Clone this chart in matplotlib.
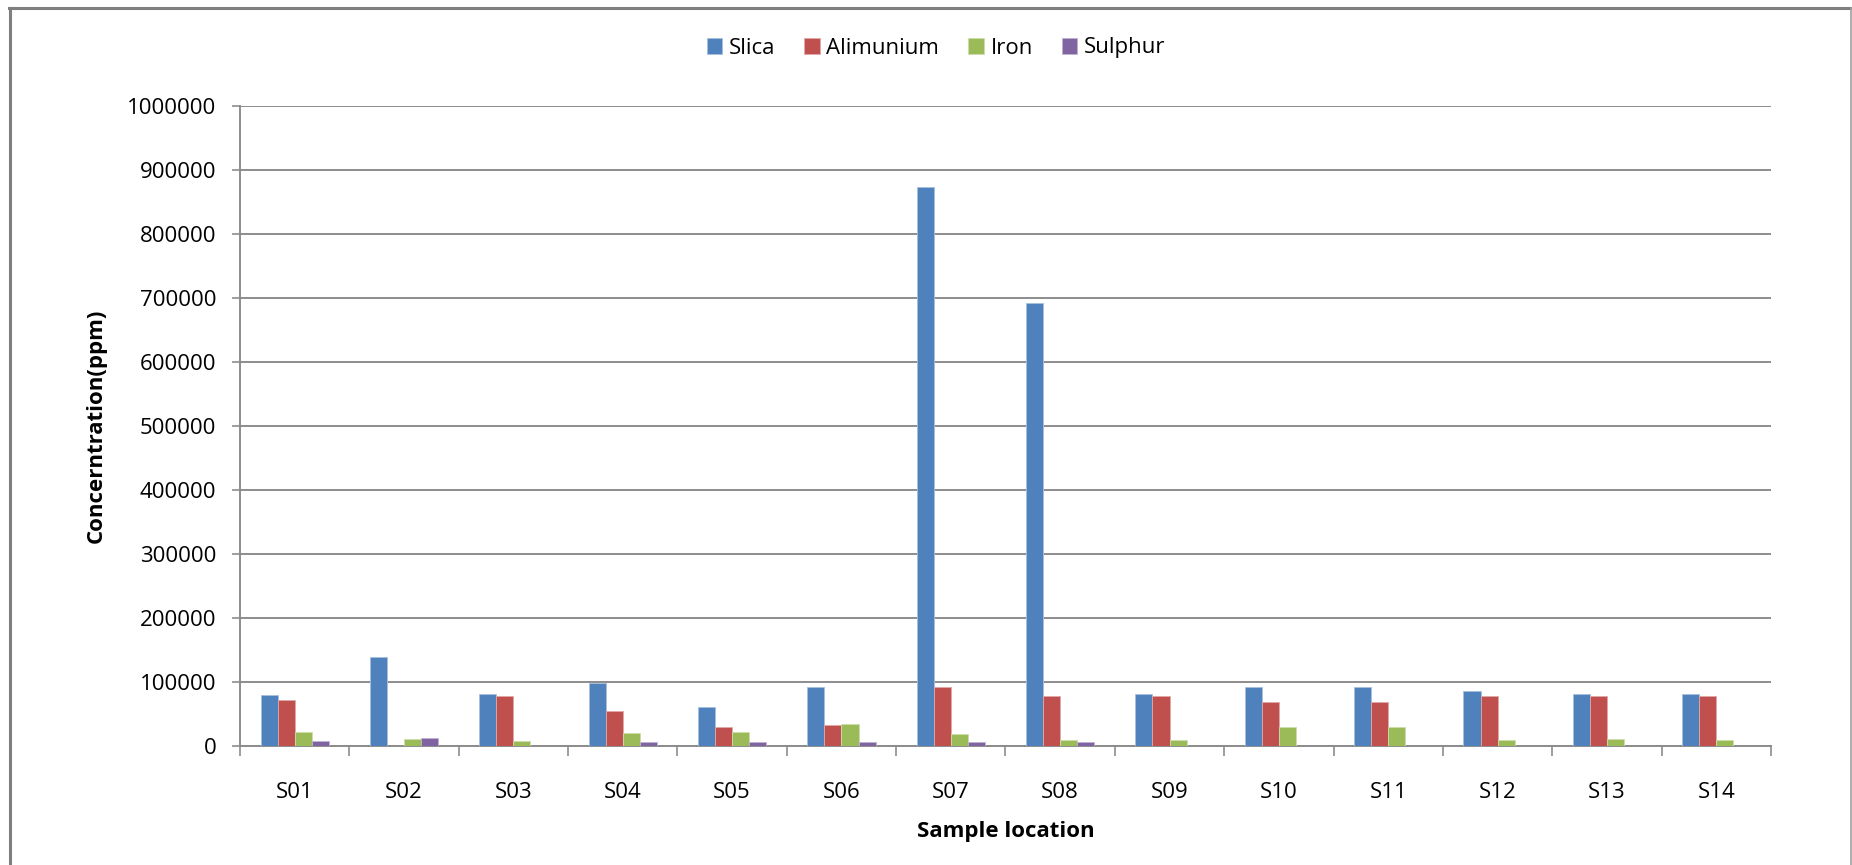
import matplotlib
matplotlib.use("Agg")
import matplotlib.pyplot as plt
import numpy as np
from matplotlib.lines import Line2D

plt.rcParams['font.family'] = ['Open Sans', 'DejaVu Sans']

# Sample sites and element concentrations (ppm)
locations = ["S01", "S02", "S03", "S04", "S05", "S06", "S07",
             "S08", "S09", "S10", "S11", "S12", "S13", "S14"]
slica = [79000, 139000, 81000, 98000, 61000, 91000, 873000,
         692000, 81000, 91000, 91000, 85000, 81000, 81000]
alimunium = [71000, 0, 78000, 55000, 29000, 33000, 91000,
             78000, 78000, 69000, 69000, 78000, 78000, 78000]
iron = [22000, 10000, 8000, 20000, 22000, 34000, 18000,
        8500, 8500, 28500, 28500, 8500, 10000, 8500]
sulphur = [8000, 12000, 0, 6500, 6000, 6000, 6000,
           6000, 0, 0, 0, 0, 0, 0]

series_names = ["Slica", "Alimunium", "Iron", "Sulphur"]
series_values = [slica, alimunium, iron, sulphur]
colors = ["#4F81BD", "#C0504D", "#9BBB59", "#8064A2"]
edge_colors = ["#A7C0DE", "#E0A8A6", "#CDDDAC", "#BFB1D0"]
y_ticks = [0, 100000, 200000, 300000, 400000, 500000,
           600000, 700000, 800000, 900000, 1000000]

W, H = 1852, 865
fig = plt.figure(figsize=(W / 100, H / 100), dpi=100)
ax = fig.add_axes([240 / W, 1 - 745.7 / H, (1771 - 240) / W, (745.7 - 106) / H])

x = np.arange(len(locations))
group = 1 / 1.6
bw = group / 4
for i, (name, vals, c, ec) in enumerate(zip(series_names, series_values, colors, edge_colors)):
    ax.bar(x - group / 2 + bw * (i + 0.5), vals, width=bw, color=c,
           edgecolor=ec, linewidth=0.6, label=name, zorder=3)

ax.set_xlim(-0.5, len(locations) - 0.5)
ax.set_ylim(0, 1000000)
ax.set_yticks(y_ticks)
ax.set_yticklabels([str(v) for v in y_ticks])
ax.yaxis.grid(True, color="#8C8C8C", linewidth=1.4, zorder=0)
ax.set_axisbelow(True)

ax.set_xticks(x)
ax.set_xticklabels(locations)
ax.set_xticks(np.arange(-0.5, len(locations)), minor=True)
ax.tick_params(axis="x", which="major", length=0, pad=26, labelsize=16)
ax.tick_params(axis="x", which="minor", length=7, width=1.2, color="#8C8C8C", direction="out")
ax.tick_params(axis="y", length=6, width=1.2, color="#8C8C8C", pad=11, labelsize=16)

for s in ("top", "right"):
    ax.spines[s].set_visible(False)
for s in ("left", "bottom"):
    ax.spines[s].set_color("#8C8C8C")
    ax.spines[s].set_linewidth(1.4)

ax.set_xlabel("Sample location", fontsize=16, fontweight="bold", labelpad=13)
ax.set_ylabel("Concerntration(ppm)", fontsize=16, fontweight="bold", labelpad=15)

fig.legend(*ax.get_legend_handles_labels(), loc="center", ncol=4,
           bbox_to_anchor=(936 / W, 1 - 48 / H), frameon=False, fontsize=16,
           handlelength=0.7, handleheight=0.7, handletextpad=0.3, columnspacing=1.3)

# Outer chart frame
fig.add_artist(Line2D([9 / W, 1851 / W], [1 - 8 / H, 1 - 8 / H], transform=fig.transFigure,
                      color="#7F7F7F", linewidth=2.2))
fig.add_artist(Line2D([9.5 / W, 9.5 / W], [0, 1 - 8 / H], transform=fig.transFigure,
                      color="#7F7F7F", linewidth=2.2))
fig.add_artist(Line2D([1850.5 / W, 1850.5 / W], [0, 1 - 8 / H], transform=fig.transFigure,
                      color="#A0A0A0", linewidth=1.2))

fig.savefig("out.png", dpi=100, facecolor="white")
